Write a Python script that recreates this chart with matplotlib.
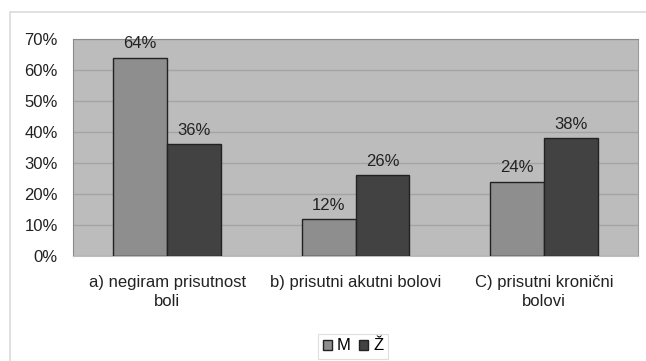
import matplotlib
matplotlib.use("Agg")
import matplotlib.pyplot as plt
import numpy as np
from matplotlib.patches import Rectangle

plt.rcParams['font.family'] = ['Liberation Sans', 'DejaVu Sans']

categories = ["a) negiram prisutnost\nboli", "b) prisutni akutni bolovi", "C) prisutni kronični\nbolovi"]
series_names = ["M", "Ž"]
values_m = [64, 12, 24]
values_z = [36, 26, 38]
yticks = [0, 10, 20, 30, 40, 50, 60, 70]

colors = ["#8e8e8e", "#424242"]
fs = 12

fig = plt.figure(figsize=(6.46, 3.61), dpi=100)
fig.patch.set_facecolor("white")

# outer chart border
fig.add_artist(Rectangle((10 / 646, -0.05), 1.0, (361 - 12) / 361 + 0.05,
                         transform=fig.transFigure, fill=False,
                         edgecolor="#dcdcdc", linewidth=1.2))

ax = fig.add_axes([73 / 646, 1 - 256 / 361, (638 - 73) / 646, (256 - 39) / 361])
ax.set_facecolor("#bcbcbc")

x = np.arange(len(categories))
w = 1 / 3.5
ax.bar(x - w / 2, values_m, w, color=colors[0], edgecolor="#222222", linewidth=1.0,
       label=series_names[0], zorder=3)
ax.bar(x + w / 2, values_z, w, color=colors[1], edgecolor="#222222", linewidth=1.0,
       label=series_names[1], zorder=3)

for xi, v in zip(x - w / 2, values_m):
    ax.text(xi, v + 2.0, f"{v}%", ha="center", va="bottom", fontsize=fs, color="#222222")
for xi, v in zip(x + w / 2, values_z):
    ax.text(xi, v + 2.0, f"{v}%", ha="center", va="bottom", fontsize=fs, color="#222222")

ax.set_xlim(-0.5, len(categories) - 0.5)
ax.set_ylim(0, 70)
ax.set_yticks(yticks)
ax.set_yticklabels([f"{t}%" for t in yticks], fontsize=fs, color="#222222")
ax.yaxis.grid(True, color="#a4a4a4", linewidth=1.0, zorder=0)
ax.set_axisbelow(True)
ax.tick_params(axis="y", length=0, pad=11)
ax.tick_params(axis="x", length=0, pad=14)
ax.set_xticks(x)
ax.set_xticklabels(categories, fontsize=fs, color="#222222", va="top",
                   linespacing=1.3, multialignment="center")

for s in ["top", "left"]:
    ax.spines[s].set_color("#8a8a8a")
ax.spines["right"].set_color("#9a9a9a")
ax.spines["bottom"].set_color("#bcbcbc")

leg = fig.legend(loc="center", bbox_to_anchor=(353 / 646, 1 - 346 / 361), ncol=2,
                 fontsize=fs, frameon=True, fancybox=False, handlelength=0.55,
                 handleheight=0.55, handletextpad=0.3, columnspacing=0.5,
                 borderpad=0.3, edgecolor="#d6d6d6")
leg.get_frame().set_linewidth(0.8)

fig.savefig("out.png", dpi=100, facecolor="white")
